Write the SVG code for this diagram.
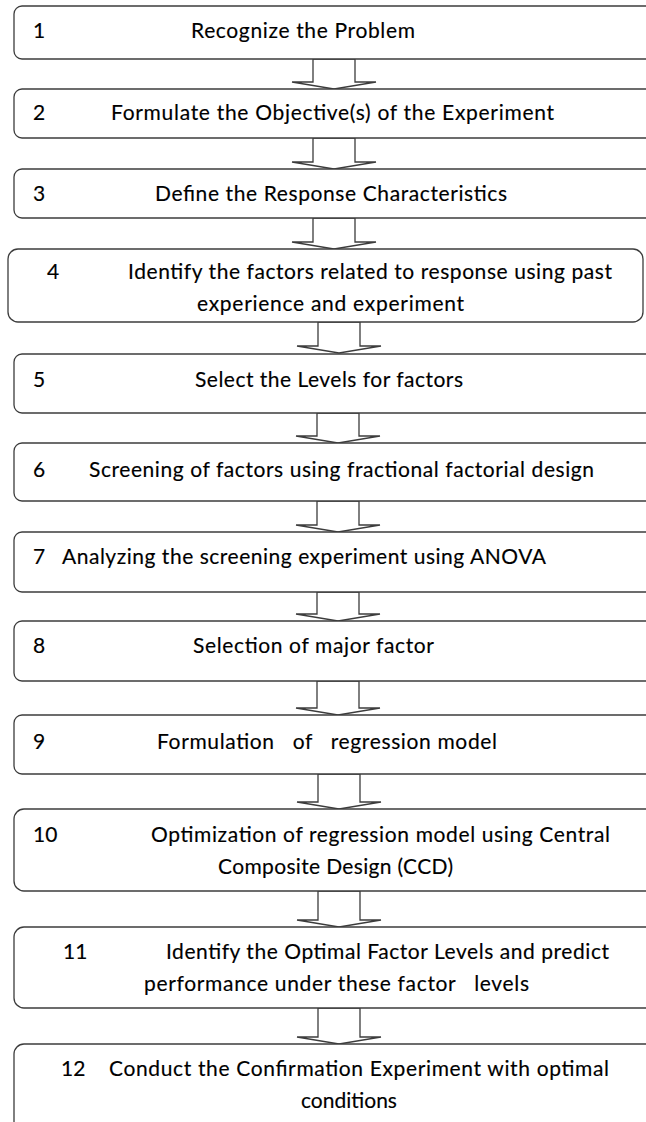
<svg xmlns="http://www.w3.org/2000/svg" width="646" height="1122" viewBox="0 0 646 1122">
  <style>
    .box { fill: #ffffff; stroke: #3c3c3c; stroke-width: 1.3; }
    .arrow { fill: #ffffff; stroke: #3c3c3c; stroke-width: 1.3; stroke-linejoin: miter; }
    text { font-family: Lato, "Liberation Sans", sans-serif; font-size: 21px; fill: #000000; white-space: pre; stroke: #000000; stroke-width: 0.15; }
    .mid { text-anchor: middle; }
  </style>
  <rect width="646" height="1122" fill="#ffffff"/>

  <!-- block arrows between consecutive steps -->
  <g id="connectors">
    <polygon class="arrow" points="313,59 313,82 292,82 334,89 376,82 355,82 355,59"/>
    <polygon class="arrow" points="313,138 313,162 292,162 334,169 376,162 355,162 355,138"/>
    <polygon class="arrow" points="313,218 313,242 292,242 334,249 376,242 355,242 355,218"/>
    <polygon class="arrow" points="318,322 318,346 297,346 339,353 381,346 360,346 360,322"/>
    <polygon class="arrow" points="317,413 317,436 296,436 338,443 380,436 359,436 359,413"/>
    <polygon class="arrow" points="317,501 317,525 296,525 338,532 380,525 359,525 359,501"/>
    <polygon class="arrow" points="317,592 317,614 296,614 338,621 380,614 359,614 359,592"/>
    <polygon class="arrow" points="317,681 317,708 296,708 338,715 380,708 359,708 359,681"/>
    <polygon class="arrow" points="318,774 318,802 297,802 339,809 381,802 360,802 360,774"/>
    <polygon class="arrow" points="318,891 318,920 297,920 339,927 381,920 360,920 360,891"/>
    <polygon class="arrow" points="318,1008 318,1037 297,1037 339,1044 381,1037 360,1037 360,1008"/>
  </g>

  <g id="step1">
    <rect class="box" x="14" y="6" width="660" height="53" rx="8"/>
    <text x="33" y="38">1</text>
    <text x="191" y="38" textLength="224">Recognize the Problem</text>
  </g>

  <g id="step2">
    <rect class="box" x="14" y="89" width="660" height="49" rx="8"/>
    <text x="33" y="120">2</text>
    <text x="111" y="120" textLength="443">Formulate the Objective(s) of the Experiment</text>
  </g>

  <g id="step3">
    <rect class="box" x="14" y="169" width="660" height="49" rx="8"/>
    <text x="33" y="201">3</text>
    <text x="155" y="201" textLength="352">Define the Response Characteristics</text>
  </g>

  <g id="step4">
    <rect class="box" x="8" y="249" width="635" height="73" rx="10"/>
    <text x="47" y="279">4</text>
    <text x="128" y="279" textLength="484">Identify the factors related to response using past</text>
    <text x="197" y="311" textLength="267">experience and experiment</text>
  </g>

  <g id="step5">
    <rect class="box" x="14" y="354" width="660" height="59" rx="8"/>
    <text x="33" y="387">5</text>
    <text x="195" y="387" textLength="268">Select the Levels for factors</text>
  </g>

  <g id="step6">
    <rect class="box" x="14" y="443" width="660" height="58" rx="8"/>
    <text x="33" y="477">6</text>
    <text x="89" y="477" textLength="505">Screening of factors using fractional factorial design</text>
  </g>

  <g id="step7">
    <rect class="box" x="14" y="532" width="660" height="60" rx="8"/>
    <text x="33" y="564">7</text>
    <text x="62" y="564" textLength="484">Analyzing the screening experiment using ANOVA</text>
  </g>

  <g id="step8">
    <rect class="box" x="14" y="621" width="660" height="60" rx="8"/>
    <text x="33" y="653">8</text>
    <text x="193" y="653" textLength="241">Selection of major factor</text>
  </g>

  <g id="step9">
    <rect class="box" x="14" y="715" width="660" height="59" rx="8"/>
    <text x="33" y="749">9</text>
    <text x="157" y="749" textLength="340">Formulation   of   regression model</text>
  </g>

  <g id="step10">
    <rect class="box" x="14" y="809" width="660" height="82" rx="10"/>
    <text x="33" y="842">10</text>
    <text x="151" y="842" textLength="459">Optimization of regression model using Central</text>
    <text x="218" y="874" textLength="235">Composite Design (CCD)</text>
  </g>

  <g id="step11">
    <rect class="box" x="14" y="927" width="660" height="81" rx="10"/>
    <text x="63" y="959">11</text>
    <text x="166" y="959" textLength="443">Identify the Optimal Factor Levels and predict</text>
    <text x="144" y="991" textLength="385">performance under these factor   levels</text>
  </g>

  <g id="step12">
    <rect class="box" x="14" y="1044" width="660" height="100" rx="10"/>
    <text x="61" y="1076">12</text>
    <text x="109" y="1076" textLength="500">Conduct the Confirmation Experiment with optimal</text>
    <text class="mid" x="349" y="1108">conditions</text>
  </g>
</svg>
